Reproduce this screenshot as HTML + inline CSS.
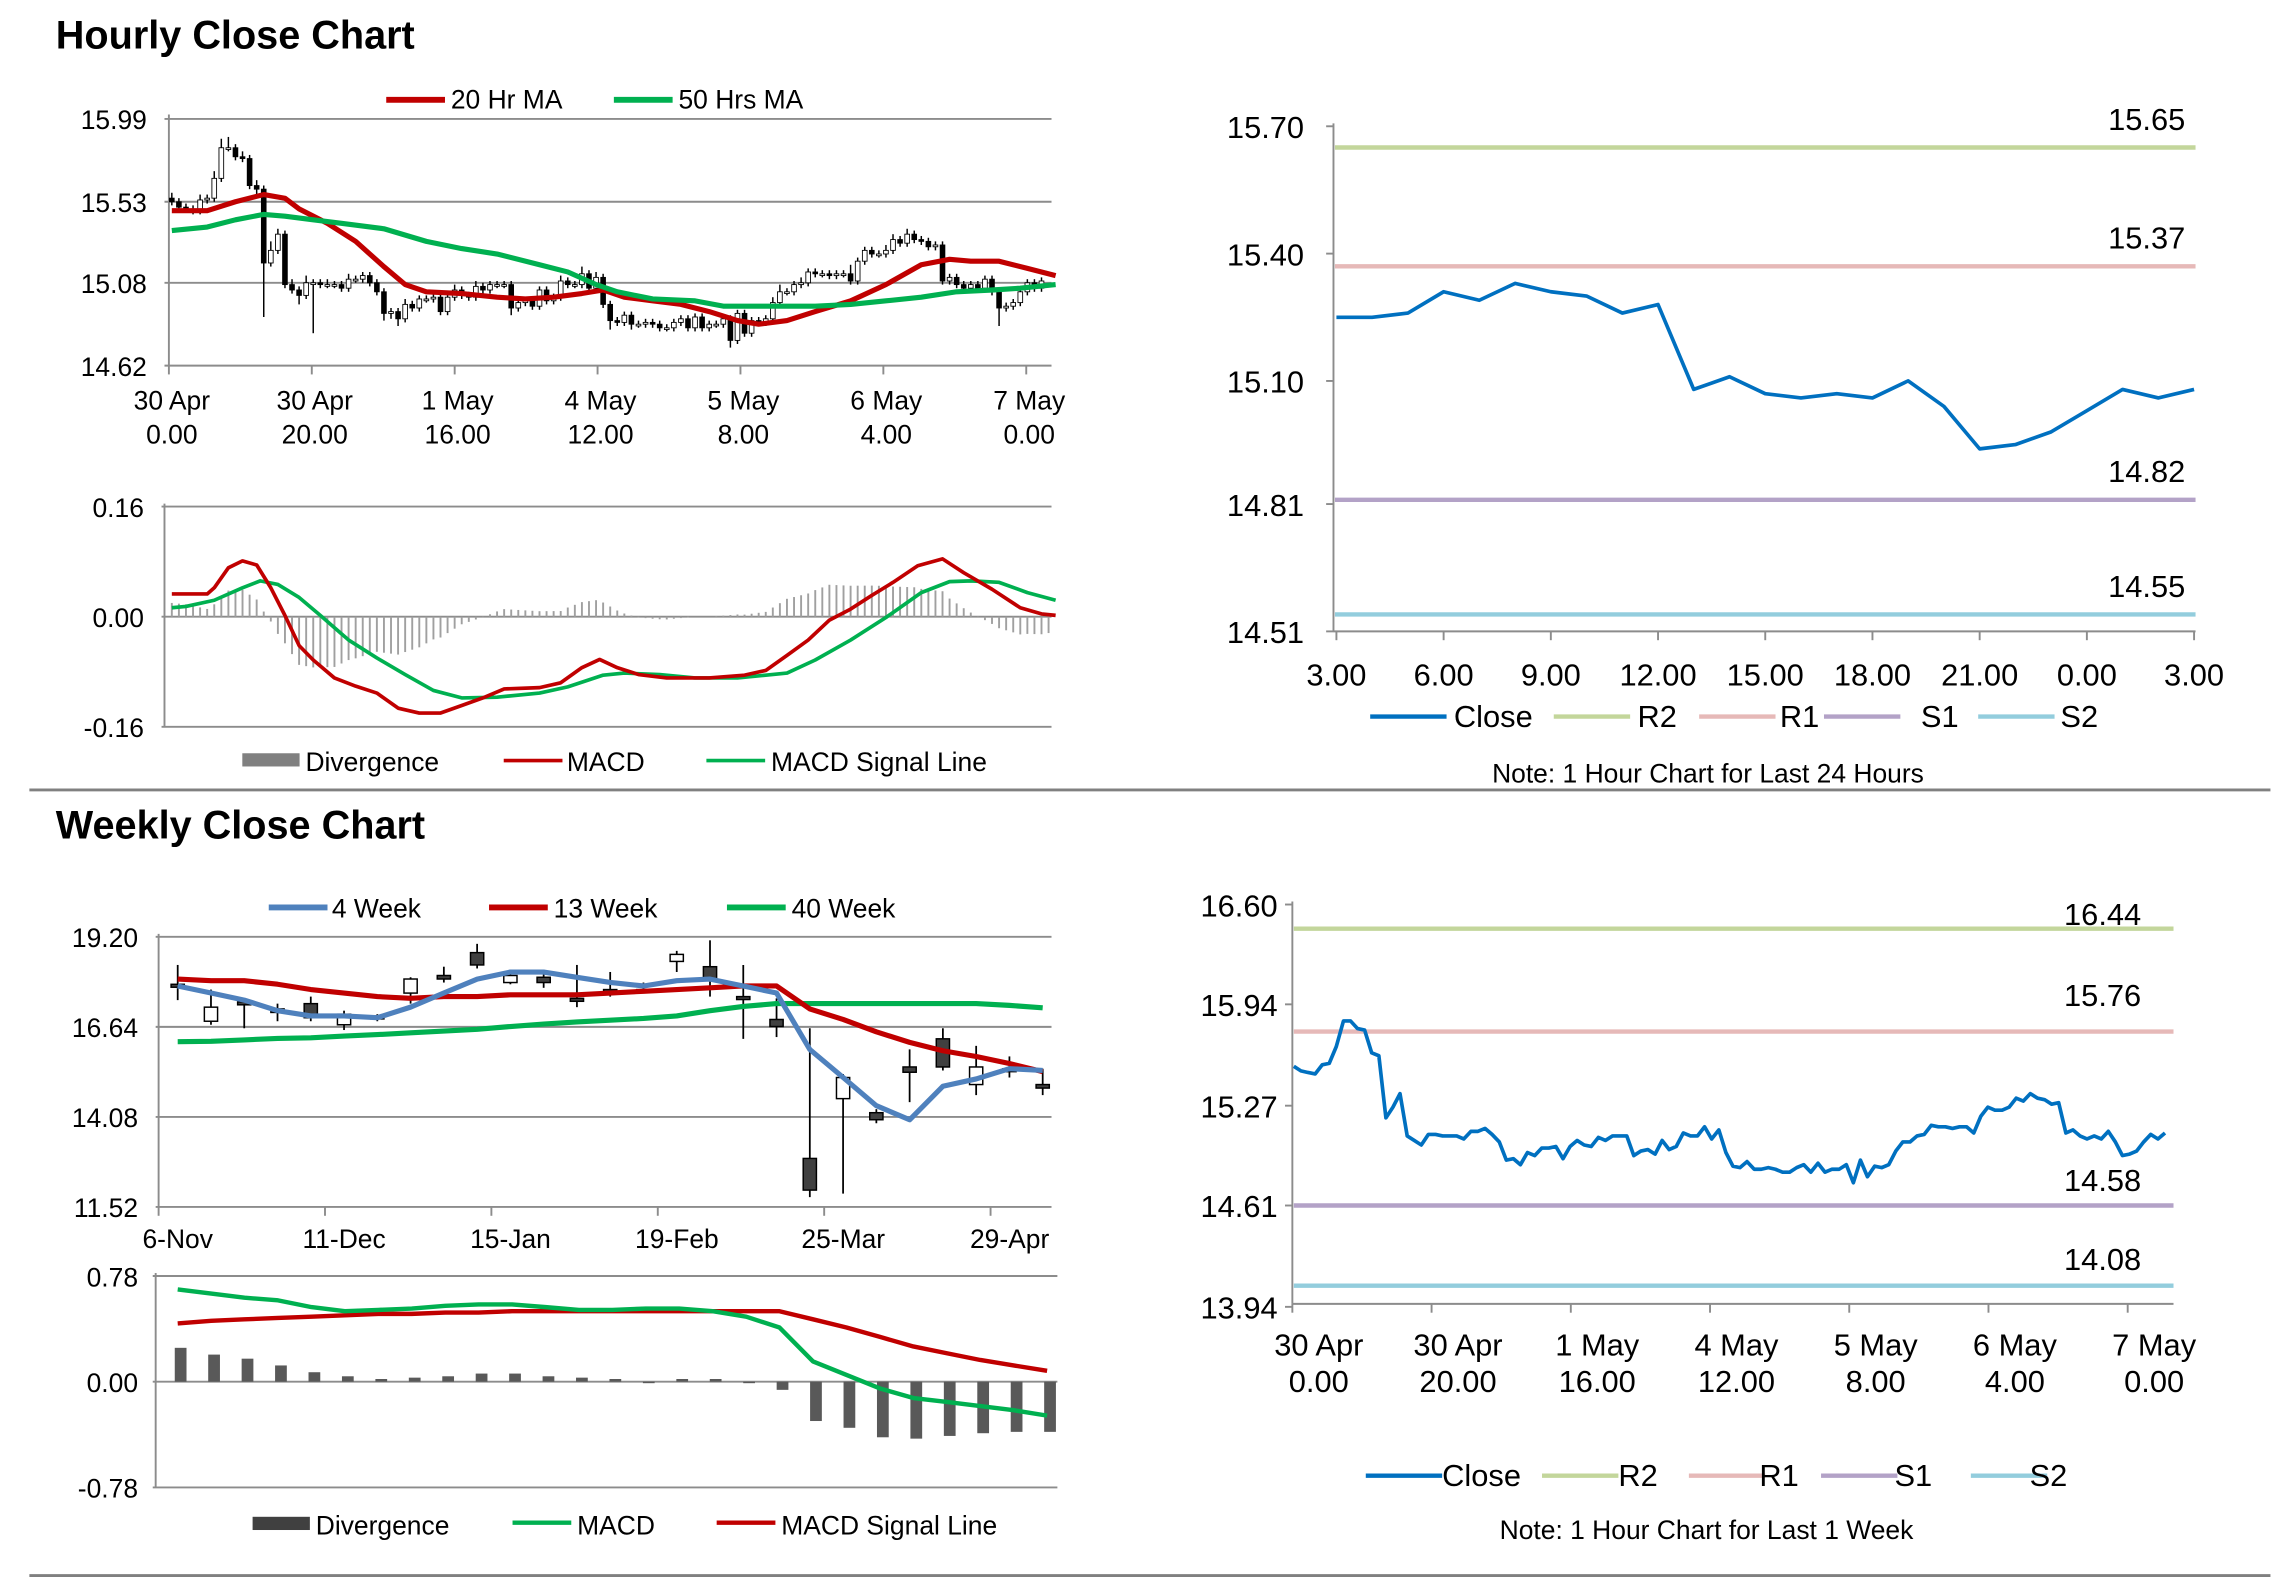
<!DOCTYPE html>
<html><head><meta charset="utf-8"><style>
html,body{margin:0;padding:0;background:#fff;}
svg{display:block;font-family:"Liberation Sans",sans-serif;}
text{fill:#000;}
</style></head><body>
<svg id="s" width="2291" height="1577" viewBox="0 0 1560 1074" preserveAspectRatio="none">
<text x="38" y="33" font-size="27" font-weight="bold">Hourly Close Chart</text>
<text x="38" y="571" font-size="27" font-weight="bold">Weekly Close Chart</text>
<line x1="20" y1="538" x2="1546" y2="538" stroke="#808080" stroke-width="2"/>
<line x1="20" y1="1073" x2="1546" y2="1073" stroke="#808080" stroke-width="2"/>
<g id="g"></g>
</svg>
<script>
// ---------- Hourly data ----------
const hClose=[15.53,15.50,15.49,15.48,15.54,15.55,15.66,15.83,15.83,15.78,15.77,15.62,15.60,15.19,15.26,15.35,15.07,15.04,15.01,15.08,15.08,15.07,15.07,15.07,15.05,15.10,15.10,15.12,15.08,15.03,14.91,14.92,14.88,14.96,14.94,14.99,14.99,15.00,14.92,15.00,15.04,15.01,15.00,15.06,15.04,15.07,15.07,15.07,14.94,14.97,14.98,14.95,15.04,14.98,15.00,15.09,15.07,15.07,15.13,15.05,15.11,14.96,14.87,14.86,14.90,14.85,14.85,14.86,14.85,14.83,14.83,14.86,14.88,14.83,14.89,14.83,14.85,14.85,14.88,14.76,14.91,14.80,14.87,14.86,14.88,14.97,15.03,15.03,15.07,15.08,15.14,15.13,15.13,15.12,15.13,15.13,15.09,15.20,15.26,15.24,15.24,15.26,15.32,15.30,15.35,15.32,15.31,15.28,15.29,15.09,15.11,15.07,15.05,15.07,15.05,15.10,15.03,14.94,14.95,14.97,15.03,15.08,15.05,15.09];
const hWickUp=[0.03,0.02,0.02,0.02,0.03,0.02,0.04,0.05,0.06,0.02,0.03,0.02,0.03,0.02,0.05,0.03,0.02,0.03,0.02,0.04,0.02,0.02,0.03,0.02,0.02,0.03,0.02,0.02,0.02,0.02,0.02,0.02,0.02,0.03,0.02,0.02,0.02,0.02,0.02,0.02,0.03,0.02,0.02,0.03,0.02,0.02,0.02,0.02,0.02,0.02,0.02,0.02,0.02,0.02,0.02,0.03,0.02,0.02,0.04,0.02,0.03,0.02,0.02,0.02,0.02,0.02,0.02,0.02,0.02,0.02,0.02,0.02,0.02,0.02,0.02,0.02,0.02,0.02,0.02,0.02,0.02,0.02,0.02,0.02,0.02,0.03,0.04,0.02,0.02,0.03,0.02,0.02,0.02,0.02,0.02,0.02,0.05,0.02,0.02,0.02,0.02,0.03,0.03,0.02,0.03,0.02,0.02,0.02,0.02,0.02,0.02,0.02,0.02,0.02,0.02,0.02,0.02,0.02,0.02,0.02,0.02,0.02,0.02,0.02,0.02];
const hWickDn=[0.02,0.02,0.02,0.02,0.02,0.02,0.02,0.02,0.02,0.02,0.02,0.02,0.03,0.30,0.02,0.02,0.02,0.02,0.05,0.02,0.28,0.02,0.02,0.02,0.02,0.02,0.02,0.02,0.02,0.02,0.04,0.03,0.04,0.02,0.02,0.02,0.02,0.02,0.02,0.02,0.02,0.02,0.02,0.02,0.02,0.02,0.02,0.02,0.04,0.02,0.02,0.02,0.02,0.02,0.02,0.02,0.02,0.02,0.02,0.02,0.02,0.02,0.05,0.02,0.02,0.03,0.02,0.02,0.02,0.02,0.02,0.02,0.02,0.02,0.02,0.02,0.02,0.02,0.02,0.04,0.02,0.02,0.02,0.02,0.02,0.02,0.02,0.02,0.02,0.02,0.02,0.02,0.02,0.02,0.02,0.02,0.02,0.02,0.02,0.02,0.02,0.02,0.02,0.02,0.02,0.02,0.02,0.02,0.02,0.02,0.02,0.02,0.02,0.02,0.02,0.02,0.02,0.10,0.02,0.02,0.02,0.02,0.02,0.02,0.02];
const ma20Hours=[0,5,9,13,16,18,22,26,30,33,36,41,46,50,54,58,61,64,68,72,76,80,83,87,91,96,101,106,110,113,117,121,125];
const ma20=[15.48,15.48,15.53,15.57,15.55,15.49,15.41,15.31,15.17,15.07,15.03,15.02,15.00,14.99,15.00,15.02,15.04,15.00,14.98,14.96,14.92,14.87,14.85,14.87,14.92,14.98,15.07,15.18,15.21,15.20,15.20,15.16,15.12];
const ma50Hours=[0,5,9,13,16,20,24,30,36,41,46,52,56,60,63,68,74,78,82,86,91,96,101,106,111,116,120,125];
const ma50=[15.37,15.39,15.43,15.46,15.45,15.43,15.41,15.38,15.31,15.27,15.24,15.18,15.14,15.07,15.03,14.99,14.98,14.95,14.95,14.95,14.95,14.96,14.98,15.00,15.03,15.04,15.05,15.07];
const hTicks=["15.99","15.53","15.08","14.62"];
const hTickVals=[15.99,15.53,15.08,14.62];
const hXLabels=[["30 Apr","0.00"],["30 Apr","20.00"],["1 May","16.00"],["4 May","12.00"],["5 May","8.00"],["6 May","4.00"],["7 May","0.00"]];
const macdHours=[0,5,6,8,10,12,14,16,18,20,23,26,29,32,35,38,41,44,47,52,55,58,60.5,63,66,70,76,81,84,87,90,93,96,99,102,105.5,109,112,116,120,123,125];
const macd=[0.033,0.033,0.042,0.071,0.081,0.075,0.042,0.002,-0.042,-0.063,-0.089,-0.101,-0.111,-0.133,-0.140,-0.140,-0.129,-0.118,-0.105,-0.103,-0.096,-0.074,-0.062,-0.074,-0.084,-0.089,-0.089,-0.085,-0.078,-0.056,-0.034,-0.005,0.011,0.031,0.050,0.074,0.084,0.064,0.040,0.013,0.004,0.002];
const sigHours=[0,2,6,10,12.5,15,18,21,25,29,33,37,41,46,52,56,61,64,69,74,80,84,87,91,96,101,106,110,113,117,121,125];
const signal=[0.013,0.015,0.024,0.042,0.052,0.047,0.028,0.002,-0.034,-0.060,-0.084,-0.107,-0.118,-0.117,-0.111,-0.102,-0.085,-0.082,-0.084,-0.089,-0.089,-0.085,-0.082,-0.063,-0.034,-0.001,0.035,0.051,0.052,0.050,0.035,0.024];
const macdTicks=["0.16","0.00","-0.16"];
const macdTickVals=[0.16,0,-0.16];
// ---------- 24h chart ----------
const dClose=[15.25,15.25,15.26,15.31,15.29,15.33,15.31,15.30,15.26,15.28,15.08,15.11,15.07,15.06,15.07,15.06,15.10,15.04,14.94,14.95,14.98,15.03,15.08,15.06,15.08];
const dXLabels=["3.00","6.00","9.00","12.00","15.00","18.00","21.00","0.00","3.00"];
const dTicks=["15.70","15.40","15.10","14.81","14.51"];
const dTickVals=[15.70,15.40,15.10,14.81,14.51];
const dLevels=[15.65,15.37,14.82,14.55];
const levelNames=["R2","R1","S1","S2"];
// ---------- 1 week chart ----------
const wkTicks=["16.60","15.94","15.27","14.61","13.94"];
const wkTickVals=[16.60,15.94,15.27,14.61,13.94];
const wkLevels=[16.44,15.76,14.61,14.08];
const wkLevelLabels=["16.44","15.76","14.58","14.08"];
// ---------- Weekly data ----------
const wLabels=["6-Nov","11-Dec","15-Jan","19-Feb","25-Mar","29-Apr"];
const wOpen=[17.85,16.8,17.35,17.15,17.3,16.7,16.95,17.6,18.1,18.75,17.9,18.05,17.45,17.7,17.7,18.5,18.35,17.5,16.85,12.9,14.6,14.2,15.5,16.3,15.0,15.45,15.0];
const wClose=[17.8,17.2,17.3,17.05,16.9,17.0,16.9,18.0,18.0,18.4,18.1,17.9,17.4,17.65,17.7,18.7,18.0,17.45,16.65,12.0,15.2,14.0,15.35,15.5,15.5,15.4,14.9];
const wHigh=[18.4,17.7,17.4,17.3,17.5,17.1,17.0,18.05,18.35,19.0,18.2,18.2,18.4,18.2,17.9,18.8,19.1,18.4,17.45,16.6,15.3,14.3,16.0,16.6,16.1,15.8,15.45];
const wLow=[17.4,16.7,16.6,16.8,16.8,16.55,16.8,17.3,17.9,18.3,17.85,17.75,17.2,17.5,17.6,18.2,17.5,16.3,16.35,11.8,11.9,13.9,14.5,15.4,14.7,15.2,14.7];
const w4=[17.8,17.6,17.4,17.1,16.95,16.95,16.9,17.2,17.6,18.0,18.2,18.2,18.05,17.9,17.8,17.95,18.0,17.8,17.6,16.0,15.2,14.4,14.0,14.95,15.16,15.45,15.4];
const w13=[18.0,17.95,17.95,17.85,17.7,17.6,17.5,17.45,17.5,17.5,17.55,17.55,17.55,17.6,17.65,17.7,17.75,17.8,17.8,17.15,16.85,16.5,16.2,15.96,15.8,15.6,15.37];
const w40=[16.22,16.23,16.27,16.31,16.33,16.38,16.42,16.47,16.52,16.57,16.65,16.72,16.78,16.83,16.88,16.95,17.1,17.22,17.3,17.3,17.3,17.3,17.3,17.3,17.3,17.25,17.18];
const wTicks=["19.20","16.64","14.08","11.52"];
const wTickVals=[19.20,16.64,14.08,11.52];
const wDiv=[0.25,0.20,0.17,0.12,0.07,0.04,0.02,0.03,0.04,0.06,0.06,0.04,0.03,0.02,-0.01,0.02,0.02,-0.01,-0.06,-0.29,-0.34,-0.41,-0.42,-0.40,-0.38,-0.37,-0.37];
const wMacd=[0.68,0.65,0.62,0.60,0.55,0.52,0.53,0.54,0.56,0.57,0.57,0.55,0.53,0.53,0.54,0.54,0.52,0.48,0.40,0.15,0.05,-0.05,-0.12,-0.15,-0.18,-0.21,-0.25];
const wSig=[0.43,0.45,0.46,0.47,0.48,0.49,0.50,0.50,0.51,0.51,0.52,0.52,0.52,0.52,0.52,0.52,0.52,0.52,0.52,0.46,0.40,0.33,0.26,0.21,0.16,0.12,0.08];
const wmTicks=["0.78","0.00","-0.78"];
const wmTickVals=[0.78,0,-0.78];

const NS="http://www.w3.org/2000/svg";
const G=document.getElementById('g');
function mk(tag,attrs,parent){const e=document.createElementNS(NS,tag);for(const k in attrs)e.setAttribute(k,attrs[k]);(parent||G).appendChild(e);return e;}
function txt(x,y,s,size,anchor){const t=mk('text',{x:x,y:y,'font-size':size,'text-anchor':anchor||'start'});t.textContent=s;return t;}
function lin(x1,y1,x2,y2,c,w){return mk('line',{x1:x1,y1:y1,x2:x2,y2:y2,stroke:c,'stroke-width':w});}
function poly(xs,ys,c,w){let p='';for(let i=0;i<xs.length;i++)p+=xs[i].toFixed(1)+','+ys[i].toFixed(1)+' ';return mk('polyline',{points:p,fill:'none',stroke:c,'stroke-width':w,'stroke-linejoin':'round'});}
function scale(v0,v1,p0,p1){return v=>p0+(v-v0)*(p1-p0)/(v1-v0);}
function interp(hs,vs,h){for(let i=0;i<hs.length-1;i++){if(h<=hs[i+1]){const t=(h-hs[i])/(hs[i+1]-hs[i]);return vs[i]+t*(vs[i+1]-vs[i]);}}return vs[vs.length-1];}

const GRID='#8c8c8c', AX='#8c8c8c';
const RED='#c00000', GREEN='#00b050', BLUE='#0070c0', LBLUE='#4f81bd';
const LVLC=['#c3d69b','#e6b9b8','#b3a2c7','#93cddd'];

// ===== Hourly candle chart =====
(function(){
 const x=scale(0,124,117,714), y=scale(15.99,14.62,81,249);
 for(let i=0;i<hTickVals.length;i++){
  const l=lin(112,y(hTickVals[i]),716,y(hTickVals[i]),GRID,1.3);
  
  
  const t=txt(100,y(hTickVals[i])+7,hTicks[i],18,'end');
  
  
 }
 lin(115,78,115,249,AX,1.3);
 for(let i=0;i<hXLabels.length;i++){
  const xx=115+i*97.3;
  lin(xx,249,xx,255,AX,1.3);
  const a=txt(xx+2,279,hXLabels[i][0],18,'middle');
  
  
  const b=txt(xx+2,302,hXLabels[i][1],18,'middle');
  
  
 }
 for(let i=0;i<hClose.length;i++){
  const o=i>0?hClose[i-1]:hClose[0]+0.02, c=hClose[i];
  const hi=Math.max(o,c)+hWickUp[i], lo=Math.min(o,c)-hWickDn[i];
  const xx=x(i);
  const w=lin(xx,y(hi),xx,y(lo),'#000',1);
  
  
  const top=y(Math.max(o,c)), h=Math.max(1.2,y(Math.min(o,c))-top);
  const r=mk('rect',{x:xx-1.6,y:top,width:3.2,height:h,fill:c>=o?'#fff':'#000',stroke:'#000','stroke-width':0.6});
  
  
 }
 const p1=poly(ma20Hours.map(x),ma20.map(y),RED,3.5);
 
 
 const p2=poly(ma50Hours.map(x),ma50.map(y),GREEN,3.5);
 
 
 const l1=lin(263,68,303,68,RED,4);
 txt(307,74,'20 Hr MA',18);
 const l2=lin(418,68,458,68,GREEN,4);
 txt(462,74,'50 Hrs MA',18);
})();

// ===== Hourly MACD =====
(function(){
 const x=scale(0,124,117,714), y=scale(0.16,-0.16,345,495);
 for(let i=0;i<macdTickVals.length;i++){
  const l=lin(110,y(macdTickVals[i]),716,y(macdTickVals[i]),GRID,1.3);
  
  
  const t=txt(98,y(macdTickVals[i])+7,macdTicks[i],18,'end');
  
  
 }
 lin(112,343,112,495,AX,1.3);
 for(let h=0;h<=124;h++){
  const d=interp(macdHours,macd,h)-interp(sigHours,signal,h);
  const b=lin(x(h),y(0),x(h),y(d),'#a0a0a0',1.3);
  
  
 }
 const p1=poly(sigHours.map(x),signal.map(y),GREEN,2.5);
 
 
 const p2=poly(macdHours.map(x),macd.map(y),RED,2.5);
 
 
 const r=mk('rect',{x:165,y:513,width:39,height:9,fill:'#808080'});
 txt(208,525,'Divergence',18);
 const l1=lin(343,518,383,518,RED,2.5);
 txt(386,525,'MACD',18);
 const l2=lin(481,518,521,518,GREEN,2.5);
 txt(525,525,'MACD Signal Line',18);
})();

function legendLevels(y0,xs,tx){
 const l=lin(xs[0],y0,xs[0]+52,y0,BLUE,3);
 
 
 txt(tx[0],y0+7,'Close',21);
 for(let i=0;i<4;i++){
  const m=lin(xs[i+1],y0,xs[i+1]+52,y0,LVLC[i],3);
  
  
  txt(tx[i+1],y0+7,levelNames[i],21);
 }
}

// ===== 24h chart =====
(function(){
 const x=scale(0,24,910,1494), y=scale(15.70,14.51,86,430);
 lin(908,84,908,430,AX,1.3);lin(908,430,1495,430,AX,1.3);
 for(let i=0;i<dTickVals.length;i++){
  lin(903,y(dTickVals[i]),908,y(dTickVals[i]),AX,1.3);
  const t=txt(888,y(dTickVals[i])+8,dTicks[i],21,'end');
  
  
 }
 for(let i=0;i<dXLabels.length;i++){
  const xx=910+i*73;
  lin(xx,430,xx,436,AX,1.3);
  const t=txt(xx,467,dXLabels[i],21,'middle');
  
  
 }
 for(let i=0;i<4;i++){
  const l=lin(909,y(dLevels[i]),1495,y(dLevels[i]),LVLC[i],3);
  
  
  const t=txt(1488,y(dLevels[i])-12,dLevels[i].toFixed(2),21,'end');
  
  
 }
 const p=poly(dClose.map((v,i)=>x(i)),dClose.map(y),BLUE,2.5);
 
 
 legendLevels(488,[933,1058,1157,1242,1347],[990,1115,1212,1308,1403]);
 const n=txt(1163,533,'Note: 1 Hour Chart for Last 24 Hours',18,'middle');
 
 
})();

// ===== 1-week hourly line =====
(function(){
 const x=scale(0,124,881,1479), y=scale(15.94,14.61,684,821);
 lin(880,614,880,888,AX,1.3);lin(880,888,1480,888,AX,1.3);
 for(let i=0;i<wkTickVals.length;i++){
  lin(875,y(wkTickVals[i]),880,y(wkTickVals[i]),AX,1.3);
  const t=txt(880-10,y(wkTickVals[i])+8,wkTicks[i],21,'end');
  
  
 }
 for(let i=0;i<hXLabels.length;i++){
  const xx=898+i*94.8;
  lin(xx-18,888,xx-18,894,AX,1.3);
  const a=txt(xx,923,hXLabels[i][0],21,'middle');
  const b=txt(xx,948,hXLabels[i][1],21,'middle');
 }
 for(let i=0;i<4;i++){
  const l=lin(881,y(wkLevels[i]),1480,y(wkLevels[i]),LVLC[i],3);
  
  
 }
 const lblY=[630,685,811,865];
 for(let i=0;i<4;i++){const t=txt(1458,lblY[i],wkLevelLabels[i],21,'end');}
 const p=poly(hClose.map((v,i)=>x(i)),hClose.map(y),BLUE,2.5);
 
 
 legendLevels(1005,[930,1050,1150,1240,1342],[982,1102,1198,1290,1382]);
 const n=txt(1162,1048,'Note: 1 Hour Chart for Last 1 Week',18,'middle');
 
 
})();

// ===== Weekly candle chart =====
(function(){
 const x=scale(0,26,121,710), y=scale(19.20,11.52,638,822);
 for(let i=0;i<wTickVals.length;i++){
  const l=lin(106,y(wTickVals[i]),716,y(wTickVals[i]),GRID,1.3);
  
  
  const t=txt(94,y(wTickVals[i])+7,wTicks[i],18,'end');
  
  
 }
 lin(108,636,108,822,AX,1.3);
 for(let i=0;i<wLabels.length;i++){
  const xx=121+i*113.3;
  lin(xx-13,822,xx-13,828,AX,1.3);
  const t=txt(xx,850,wLabels[i],18,'middle');
  
  
 }
 for(let i=0;i<wOpen.length;i++){
  const xx=x(i);
  const w=lin(xx,y(wHigh[i]),xx,y(wLow[i]),'#000',1.2);
  
  
  const top=y(Math.max(wOpen[i],wClose[i])), h=Math.max(2,y(Math.min(wOpen[i],wClose[i]))-top);
  const r=mk('rect',{x:xx-4.5,y:top,width:9,height:h,fill:wClose[i]>=wOpen[i]?'#fff':'#404040',stroke:'#000','stroke-width':1});
  
  
 }
 const idx=w4.map((v,i)=>x(i));
 const a=poly(idx,w40.map(y),GREEN,3.5);
 const b=poly(idx,w13.map(y),RED,3.5);
 const c=poly(idx,w4.map(y),LBLUE,3.5);
 const l1=lin(183,618,223,618,LBLUE,4);
 txt(226,625,'4 Week',18);
 const l2=lin(333,618,373,618,RED,4);
 txt(377,625,'13 Week',18);
 const l3=lin(495,618,535,618,GREEN,4);
 txt(539,625,'40 Week',18);
})();

// ===== Weekly MACD =====
(function(){
 const x=scale(0,26,123,715), y=scale(0.78,-0.78,869,1013);
 for(let i=0;i<wmTickVals.length;i++){
  const l=lin(104,y(wmTickVals[i]),720,y(wmTickVals[i]),GRID,1.3);
  
  
  const t=txt(94,y(wmTickVals[i])+7,wmTicks[i],18,'end');
  
  
 }
 lin(106,867,106,1013,AX,1.3);
 for(let i=0;i<wDiv.length;i++){
  const y0=y(0), y1=y(wDiv[i]);
  const r=mk('rect',{x:x(i)-4,y:Math.min(y0,y1),width:8,height:Math.max(1,Math.abs(y1-y0)),fill:'#595959'});
  
  
 }
 const xs=wMacd.map((v,i)=>x(i)-2);
 const a=poly(xs,wSig.map(y),RED,3);
 const b=poly(xs,wMacd.map(y),GREEN,3);
 const r=mk('rect',{x:172,y:1033,width:39,height:9,fill:'#404040'});
 txt(215,1045,'Divergence',18);
 const l1=lin(349,1037,389,1037,GREEN,3);
 txt(393,1045,'MACD',18);
 const l2=lin(488,1037,528,1037,RED,3);
 txt(532,1045,'MACD Signal Line',18);
})();
</script>
</body></html>
